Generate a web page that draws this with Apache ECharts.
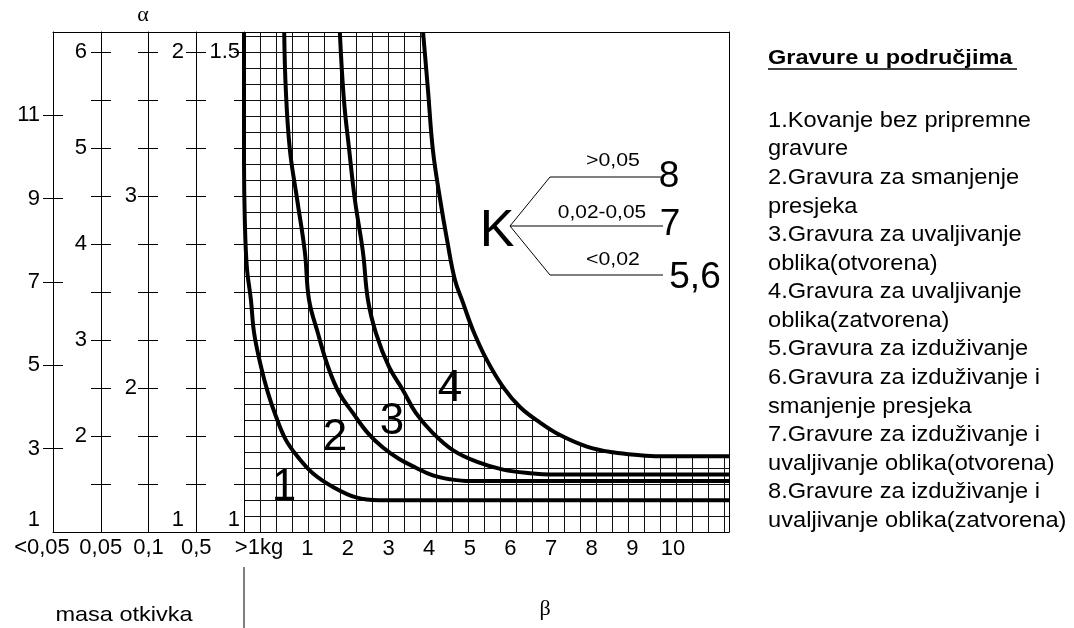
<!DOCTYPE html>
<html>
<head>
<meta charset="utf-8">
<title>Gravure u područjima</title>
<script src="https://cdn.jsdelivr.net/npm/echarts@6.0.0/dist/echarts.min.js"></script>
<style>
  html, body { margin: 0; padding: 0; background: #fff; }
  #chart { width: 1074px; height: 628px; }
</style>
</head>
<body>
<div id="chart"></div>
<script>
// masa otkivka (kolone lijevo)
var massLabels = ['<0,05', '0,05', '0,1', '0,5', '>1kg'];

// α skale po kolonama mase
var alphaCol1Labels = [1, 3, 5, 7, 9, 11];
var alphaCol1Ticks = [3, 5, 7, 9, 11];
var alphaCol2Labels = [2, 3, 4, 5, 6];
var alphaCol2Ticks = [1.5, 2, 2.5, 3, 3.5, 4, 4.5, 5, 5.5, 6];
var alphaCol3Labels = [2, 3];
var alphaCol3Ticks = [1.5, 1.75, 2, 2.25, 2.5, 2.75, 3, 3.25, 3.5, 3.75];
var alphaCol4Labels = [1, 2];
var alphaCol4Ticks = [1.1, 1.2, 1.3, 1.4, 1.5, 1.6, 1.7, 1.8, 1.9, 2];
var alphaCol5Labels = [1, 1.5];
var alphaCol5Ticks = [1.05, 1.1, 1.15, 1.2, 1.25, 1.3, 1.35, 1.4, 1.45, 1.5];

// β skala
var betaLabels = [1, 2, 3, 4, 5, 6, 7, 8, 9, 10];

// granice podrucja (β, α za >1kg)
var curve1Beta = [-0.56, -0.56, -0.54, -0.49, -0.39, -0.31, -0.14, 0.03, 0.23, 0.47, 0.77, 1.14, 1.63, 2.20, 2.76, 11.38];
var curve1Alpha = [1.520, 1.388, 1.325, 1.276, 1.242, 1.207, 1.172, 1.145, 1.120, 1.096, 1.078, 1.061, 1.047, 1.036, 1.033, 1.033];
var curve2Beta = [0.43, 0.47, 0.57, 0.75, 0.94, 1.04, 1.26, 1.51, 1.78, 2.12, 2.49, 2.86, 3.26, 3.67, 4.09, 4.51, 5.00, 11.38];
var curve2Alpha = [1.520, 1.460, 1.398, 1.346, 1.291, 1.242, 1.207, 1.172, 1.145, 1.124, 1.103, 1.088, 1.076, 1.067, 1.059, 1.055, 1.053, 1.053];
var curve3Beta = [1.80, 1.90, 2.03, 2.17, 2.37, 2.49, 2.69, 3.01, 3.35, 3.67, 4.09, 4.59, 5.18, 5.82, 6.56, 6.97, 11.38];
var curve3Alpha = [1.520, 1.450, 1.398, 1.346, 1.291, 1.242, 1.207, 1.172, 1.148, 1.124, 1.103, 1.085, 1.073, 1.065, 1.061, 1.060, 1.060];
var curve4Beta = [3.85, 3.97, 4.09, 4.27, 4.44, 4.63, 4.83, 5.08, 5.42, 5.82, 6.24, 6.73, 7.22, 7.88, 8.52, 9.19, 9.68, 11.38];
var curve4Alpha = [1.520, 1.460, 1.398, 1.346, 1.304, 1.263, 1.239, 1.210, 1.179, 1.151, 1.130, 1.114, 1.101, 1.089, 1.083, 1.080, 1.079, 1.079];

// legenda
var legendTitle = 'Gravure u područjima';
var legendLines = [
  '1.Kovanje bez pripremne',
  'gravure',
  '2.Gravura za smanjenje',
  'presjeka',
  '3.Gravura za uvaljivanje',
  'oblika(otvorena)',
  '4.Gravura za uvaljivanje',
  'oblika(zatvorena)',
  '5.Gravura za izduživanje',
  '6.Gravura za izduživanje i',
  'smanjenje presjeka',
  '7.Gravure za izduživanje i',
  'uvaljivanje oblika(otvorena)',
  '8.Gravure za izduživanje i',
  'uvaljivanje oblika(zatvorena)'
];

var FONT = '"Liberation Sans", Arial, sans-serif';
var SERIF = '"Liberation Serif", "Times New Roman", serif';
var AX_FS = 22;

function zip(xs, ys) {
  return xs.map(function (x, i) { return [x, ys[i]]; });
}

var lineBlack = { color: '#000', width: 1 };

// jedna kolona α: os s oznakama + (po potrebi) druga os za crtice s unutarnje strane
function columnAxes(offset, min, max, labels, ticks, margin, bothSides) {
  var list = [{
    type: 'value', gridIndex: 0, position: 'left', offset: offset, min: min, max: max,
    splitLine: { show: false },
    axisLine: { show: true, onZero: false, lineStyle: lineBlack },
    axisTick: { show: true, length: 10, customValues: ticks, lineStyle: lineBlack },
    axisLabel: {
      show: true, customValues: labels, margin: margin,
      color: '#000', fontSize: AX_FS, fontFamily: FONT,
      formatter: function (v) { return v === 1 ? '{low|1}' : String(v); },
      rich: { low: { padding: [0, 0, 24, 0], fontSize: AX_FS, fontFamily: FONT, color: '#000' } }
    }
  }];
  if (bothSides) {
    list.push({
      type: 'value', gridIndex: 0, position: 'left', offset: offset, min: min, max: max,
      splitLine: { show: false },
      axisLine: { show: false, onZero: false },
      axisTick: { show: true, inside: true, length: 10, customValues: ticks, lineStyle: lineBlack },
      axisLabel: { show: false }
    });
  }
  return list;
}

var yAxes = [];
yAxes = yAxes.concat(columnAxes(0, 1, 13, alphaCol1Labels, alphaCol1Ticks, 13, true));
yAxes = yAxes.concat(columnAxes(-48, 1, 1 + 500 / 96, alphaCol2Labels, alphaCol2Ticks, 14, true));
yAxes = yAxes.concat(columnAxes(-95, 1.25, 1.25 + 500 / 192, alphaCol3Labels, alphaCol3Ticks, 11, true));
yAxes = yAxes.concat(columnAxes(-143, 1, 1 + 500 / 480, alphaCol4Labels, alphaCol4Ticks, 12, true));
yAxes = yAxes.concat(columnAxes(-191, 1, 1 + 500 / 960, alphaCol5Labels, alphaCol5Ticks, 4, false));

var alphaIdx = yAxes.length;
yAxes.push({ type: 'value', gridIndex: 1, show: false, min: 1, max: 1 + 500 / 960 });
// mreza (y)
yAxes.push({
  type: 'value', gridIndex: 1, position: 'left', min: 0, max: 31.25, interval: 1, z: 0,
  axisLine: { show: false, onZero: false }, axisTick: { show: false }, axisLabel: { show: false },
  splitLine: { show: true, lineStyle: { color: '#111', width: 1 } }
});
// desni okvir
yAxes.push({
  type: 'value', gridIndex: 1, position: 'right', min: 0, max: 1, z: 3,
  axisLine: { show: true, onZero: false, lineStyle: lineBlack },
  axisTick: { show: false }, axisLabel: { show: false }, splitLine: { show: false }
});

var xAxes = [
  {
    type: 'value', gridIndex: 0, position: 'bottom', min: 0, max: 4, z: 3,
    axisLine: { show: true, onZero: false, lineStyle: lineBlack },
    axisTick: { show: false }, splitLine: { show: false },
    axisLabel: {
      show: true, customValues: [0, 1, 2, 3, 4], margin: 5,
      color: '#000', fontSize: AX_FS, fontFamily: FONT,
      formatter: function (v) {
        if (v === 0) return '{l|' + massLabels[0] + '}';
        if (v === 4) return '{r|' + massLabels[4] + '}';
        return massLabels[v];
      },
      rich: {
        l: { padding: [0, 22, 0, 0], fontSize: AX_FS, fontFamily: FONT, color: '#000' },
        r: { padding: [0, 0, 0, 30], fontSize: AX_FS, fontFamily: FONT, color: '#000' }
      }
    }
  },
  {
    type: 'value', gridIndex: 0, position: 'top', min: 0, max: 4, z: 3,
    axisLine: { show: true, onZero: false, lineStyle: lineBlack },
    axisTick: { show: false }, axisLabel: { show: false }, splitLine: { show: false },
    name: 'α', nameLocation: 'middle', nameGap: 6,
    nameTextStyle: { fontFamily: SERIF, fontSize: 22, color: '#000', padding: [0, 11, 0, 0] }
  },
  {
    type: 'value', gridIndex: 1, position: 'bottom', min: -0.56, max: 11.38, z: 3,
    axisLine: { show: true, onZero: false, lineStyle: lineBlack },
    axisTick: { show: false }, splitLine: { show: false },
    axisLabel: { show: true, customValues: betaLabels, margin: 6, color: '#000', fontSize: AX_FS, fontFamily: FONT },
    name: 'β', nameLocation: 'middle', nameGap: 66,
    nameTextStyle: { fontFamily: SERIF, fontSize: 22, color: '#000', padding: [0, 0, 0, 117] }
  },
  {
    type: 'value', gridIndex: 1, position: 'top', min: 0, max: 1, z: 3,
    axisLine: { show: true, onZero: false, lineStyle: lineBlack },
    axisTick: { show: false }, axisLabel: { show: false }, splitLine: { show: false }
  },
  // mreza (x)
  {
    type: 'value', gridIndex: 1, position: 'bottom', min: 0, max: 485 / 16, interval: 1, z: 0,
    axisLine: { show: false, onZero: false }, axisTick: { show: false }, axisLabel: { show: false },
    splitLine: { show: true, lineStyle: { color: '#111', width: 1 } }
  }
];

function curveSeries(name, beta, alpha) {
  return {
    name: name, type: 'line', xAxisIndex: 2, yAxisIndex: alphaIdx,
    data: zip(beta, alpha), symbol: 'none', smooth: 0.4, clip: false, z: 5,
    lineStyle: { color: '#000', width: 4 }
  };
}

var series = [
  // bijelo iznad krive 4 (mreza je samo ispod nje)
  {
    type: 'line', xAxisIndex: 2, yAxisIndex: alphaIdx, data: zip(curve4Beta, curve4Alpha),
    symbol: 'none', smooth: 0.4, z: 1, silent: true,
    lineStyle: { width: 0 },
    areaStyle: { color: '#fff', opacity: 1, origin: 'end' }
  },
  curveSeries('1', curve1Beta, curve1Alpha),
  curveSeries('2', curve2Beta, curve2Alpha),
  curveSeries('3', curve3Beta, curve3Alpha),
  curveSeries('4', curve4Beta, curve4Alpha)
];

function txt(text, x, y, size, opt) {
  opt = opt || {};
  return {
    type: 'text', x: x, y: y, z: 10, scaleX: opt.sx || 1,
    style: {
      text: text, fill: '#000',
      font: (opt.bold ? 'bold ' : '') + size + 'px ' + (opt.family || FONT),
      align: opt.align || 'center', textAlign: opt.align || 'center',
      verticalAlign: 'middle', textVerticalAlign: 'middle'
    }
  };
}

var graphics = [
  // oznake podrucja
  txt('1', 284, 488, 44),
  txt('2', 335, 438, 44),
  txt('3', 392, 422, 44),
  txt('4', 450, 389, 44),
  // K grananje
  txt('K', 497, 232, 52),
  {
    type: 'polyline', z: 10,
    shape: { points: [[661, 177], [550, 177], [510, 226], [550, 275], [663, 275]] },
    style: { stroke: '#000', lineWidth: 1, fill: null }
  },
  {
    type: 'line', z: 10,
    shape: { x1: 510, y1: 226, x2: 663, y2: 226 },
    style: { stroke: '#000', lineWidth: 1 }
  },
  txt('>0,05', 613, 161, 19, { sx: 1.12 }),
  txt('0,02-0,05', 602, 213, 19, { sx: 1.1 }),
  txt('<0,02', 613, 260, 19, { sx: 1.12 }),
  txt('8', 669, 177, 37),
  txt('7', 670, 225, 37),
  txt('5,6', 695, 278, 37),
  // masa otkivka
  txt('masa otkivka', 124, 615, 21, { sx: 1.12 }),
  {
    type: 'line', z: 10,
    shape: { x1: 244, y1: 567, x2: 244, y2: 628 },
    style: { stroke: '#000', lineWidth: 1 }
  },
  // legenda
  txt(legendTitle, 768, 58, 21, { bold: true, align: 'left', sx: 1.12 }),
  {
    type: 'line', z: 10,
    shape: { x1: 768, y1: 69, x2: 1017, y2: 69 },
    style: { stroke: '#000', lineWidth: 1.5 }
  }
];
legendLines.forEach(function (line, i) {
  graphics.push(txt(line, 768, 121 + i * 28.57, 21.5, { align: 'left', sx: 1.1 }));
});

var chart = echarts.init(document.getElementById('chart'));
chart.setOption({
  animation: false,
  backgroundColor: '#fff',
  grid: [
    { left: 53, top: 32, width: 191, height: 500, containLabel: false, outerBoundsMode: 'none' },
    { left: 244, top: 32, width: 485, height: 500, containLabel: false, outerBoundsMode: 'none' }
  ],
  xAxis: xAxes,
  yAxis: yAxes,
  series: series,
  graphic: { elements: graphics }
});
</script>
</body>
</html>
